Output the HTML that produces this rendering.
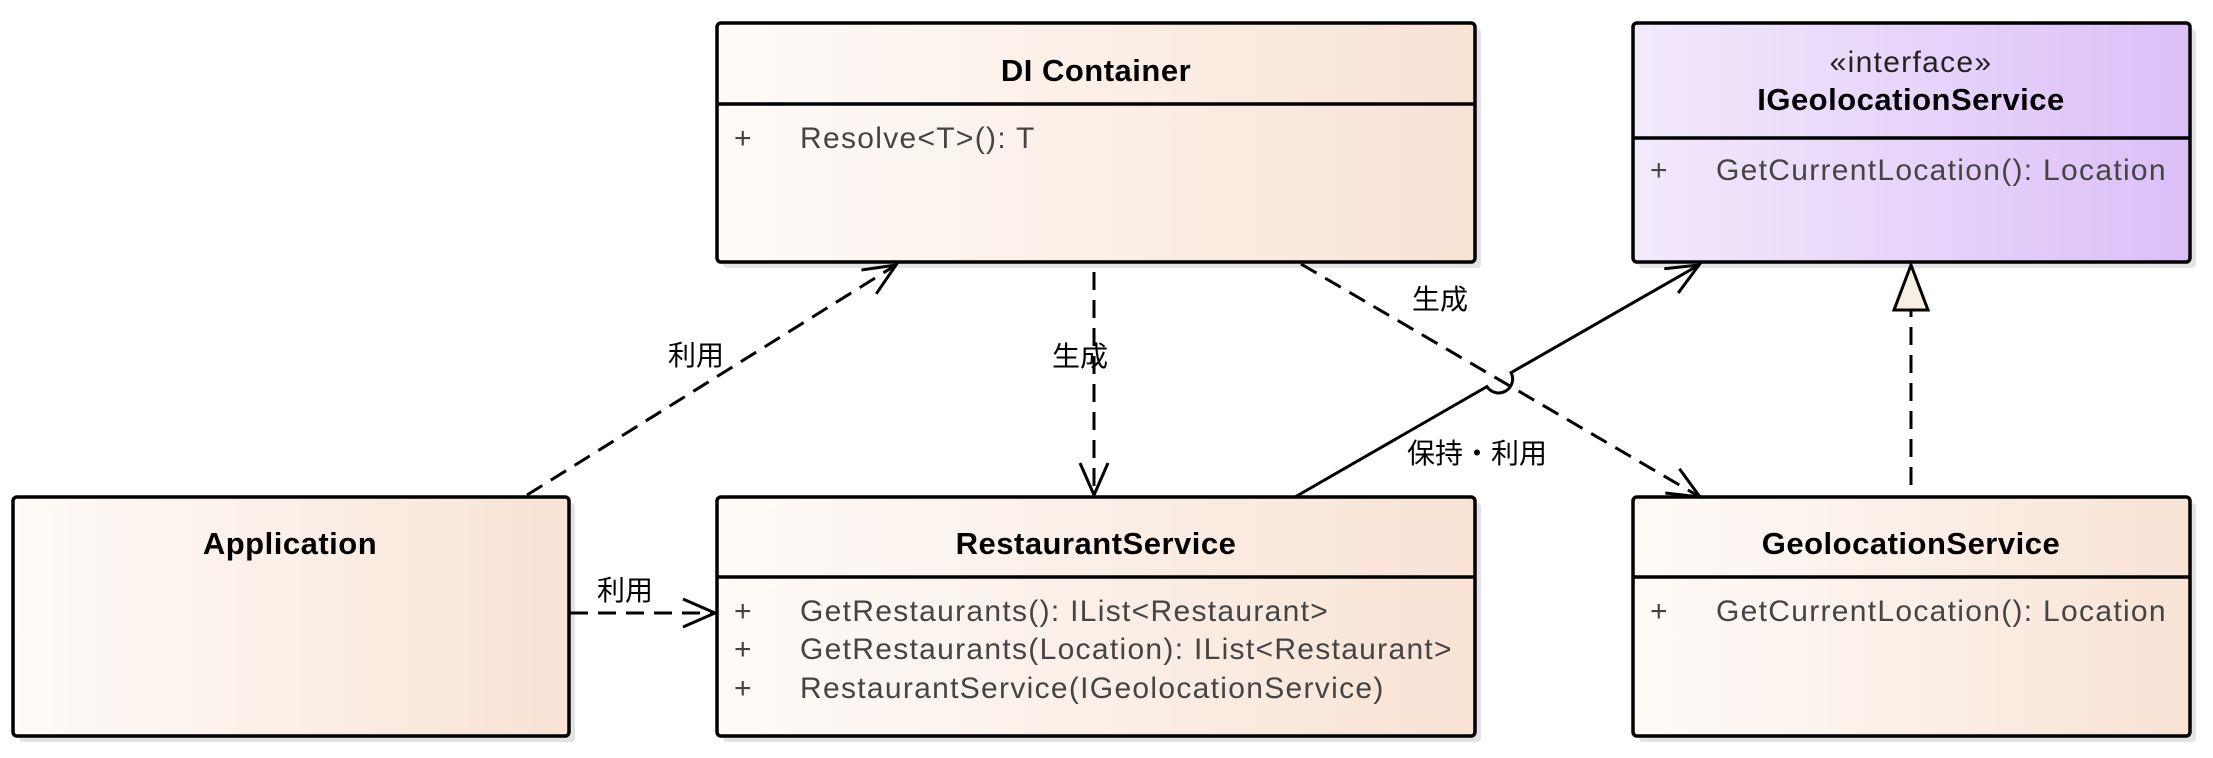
<!DOCTYPE html>
<html><head><meta charset="utf-8"><style>
html,body{margin:0;padding:0;background:#fff;}
svg{display:block;}
text{font-family:"Liberation Sans","Noto Sans CJK JP",sans-serif;}
.t{font-weight:bold;font-size:31px;fill:#000;letter-spacing:0.5px;}
.m{font-size:30px;fill:#444;letter-spacing:1.3px;}
.l{font-size:28px;fill:#000;}
</style></head><body>
<svg width="2213" height="758" viewBox="0 0 2213 758" xmlns="http://www.w3.org/2000/svg">
<defs>
<linearGradient id="g1" x1="0" x2="1" y1="0" y2="0"><stop offset="0" stop-color="#fefbf9"/><stop offset="1" stop-color="#f8e3d4"/></linearGradient>
<linearGradient id="g2" x1="0" x2="1" y1="0" y2="0"><stop offset="0" stop-color="#f3eafc"/><stop offset="1" stop-color="#dbbff8"/></linearGradient>
<marker id="a" markerUnits="userSpaceOnUse" markerWidth="40" markerHeight="40" viewBox="-35 -20 40 40" refX="0" refY="0" orient="auto">
<path d="M-32,-14 L0,0 L-32,14" fill="none" stroke="#000" stroke-width="3"/>
</marker>
</defs>
<g fill="#e3e3e3">
<rect x="723" y="29" width="758" height="239" rx="4"/>
<rect x="1639" y="29" width="557" height="239" rx="4"/>
<rect x="19" y="503" width="556" height="239" rx="4"/>
<rect x="723" y="503" width="758" height="239" rx="4"/>
<rect x="1639" y="503" width="557" height="239" rx="4"/>
</g>
<g stroke="#000" stroke-width="3.5">
<rect x="717" y="23" width="758" height="239" rx="4" fill="url(#g1)"/>
<line x1="717" y1="104" x2="1475" y2="104"/>
<rect x="1633" y="23" width="557" height="239" rx="4" fill="url(#g2)"/>
<line x1="1633" y1="138" x2="2190" y2="138"/>
<rect x="13" y="497" width="556" height="239" rx="4" fill="url(#g1)"/>
<rect x="717" y="497" width="758" height="239" rx="4" fill="url(#g1)"/>
<line x1="717" y1="577" x2="1475" y2="577"/>
<rect x="1633" y="497" width="557" height="239" rx="4" fill="url(#g1)"/>
<line x1="1633" y1="577" x2="2190" y2="577"/>
</g>
<text class="t" x="1096" y="81" text-anchor="middle">DI Container</text>
<text class="m" x="734" y="148">+</text><text class="m" x="800" y="148">Resolve&lt;T&gt;(): T</text>
<text class="m" x="1911" y="72" text-anchor="middle" style="fill:#222">«interface»</text>
<text class="t" x="1911" y="110" text-anchor="middle">IGeolocationService</text>
<text class="m" x="1650" y="180">+</text><text class="m" x="1716" y="180">GetCurrentLocation(): Location</text>
<text class="t" x="290" y="554" text-anchor="middle">Application</text>
<text class="t" x="1096" y="554" text-anchor="middle">RestaurantService</text>
<text class="m" x="734" y="621">+</text><text class="m" x="800" y="621">GetRestaurants(): IList&lt;Restaurant&gt;</text>
<text class="m" x="734" y="659">+</text><text class="m" x="800" y="659">GetRestaurants(Location): IList&lt;Restaurant&gt;</text>
<text class="m" x="734" y="698">+</text><text class="m" x="800" y="698">RestaurantService(IGeolocationService)</text>
<text class="t" x="1911" y="554" text-anchor="middle">GeolocationService</text>
<text class="m" x="1650" y="621">+</text><text class="m" x="1716" y="621">GetCurrentLocation(): Location</text>
<g stroke="#000" stroke-width="3" fill="none">
<line x1="527" y1="495" x2="896" y2="265" stroke-dasharray="18,10" marker-end="url(#a)"/>
<line x1="570" y1="613" x2="715" y2="613" stroke-dasharray="18,10" marker-end="url(#a)"/>
<line x1="1094" y1="272" x2="1094" y2="495" stroke-dasharray="18,10" marker-end="url(#a)"/>
<line x1="1301" y1="264" x2="1700" y2="497" stroke-dasharray="18,10" marker-end="url(#a)"/>
<path d="M1295,497 L1486.9,386.6 A14,14 0 0 0 1511.1,372.6 L1699,265" marker-end="url(#a)"/>
<line x1="1911" y1="485" x2="1911" y2="310" stroke-dasharray="18,10"/>
<polygon points="1911,265 1894,310 1928,310" fill="#f8efe4"/>
</g>
<text class="l" x="696" y="365" text-anchor="middle">利用</text>
<text class="l" x="625" y="600" text-anchor="middle">利用</text>
<text class="l" x="1080" y="366" text-anchor="middle">生成</text>
<text class="l" x="1440" y="309" text-anchor="middle">生成</text>
<text class="l" x="1477" y="463" text-anchor="middle">保持・利用</text>
</svg>
</body></html>
